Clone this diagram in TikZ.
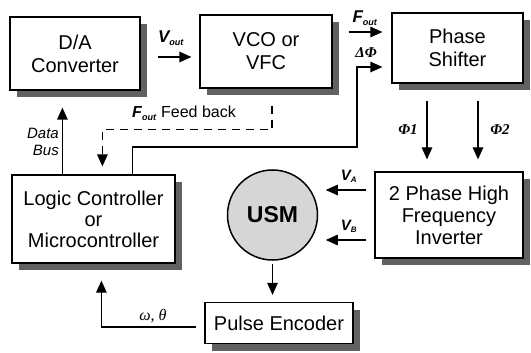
\documentclass[tikz,border=0pt]{standalone}
\usepackage{fontspec}
\setmainfont{Liberation Sans}
\newfontfamily\serifit{Liberation Serif}
\usetikzlibrary{arrows.meta,calc,shadows}
\begin{document}
\begin{tikzpicture}[x=1pt,y=-1pt,
  box/.style={draw, line width=1.2pt, fill=white, align=center, inner sep=0pt,
    font=\fontsize{20}{23}\selectfont,
    drop shadow={shadow xshift=7pt,shadow yshift=-7pt,fill=black!62,opacity=1}},
  arr/.style={-{Triangle[length=12pt,width=10.5pt]}, line width=1.2pt},
  lab/.style={inner sep=0pt, font=\fontsize{16}{18}\selectfont\itshape},
  glab/.style={inner sep=0pt, font=\fontsize{15}{17}\selectfont\serifit\bfseries\itshape}]
\useasboundingbox (0,0) rectangle (531,353);
% boxes
\node[box, minimum width=130pt, minimum height=73pt] (da) at (75,53.5) {D/A\\Converter};
\node[box, minimum width=132pt, minimum height=73pt] (vco) at (266,51.5) {VCO or\\VFC};
\node[box, minimum width=131pt, minimum height=70pt] (ps) at (457.5,48) {Phase\\Shifter};
\node[box, minimum width=163pt, minimum height=88pt, font=\fontsize{20}{21}\selectfont] (logic) at (93.5,219) {Logic Controller\\or\\Microcontroller};
\node[box, minimum width=148pt, minimum height=86pt, font=\fontsize{20}{22}\selectfont] (inv) at (449,215) {2 Phase High\\Frequency\\Inverter};
\node[box, minimum width=148pt, minimum height=41pt] (pe) at (279,323) {Pulse Encoder};
\node[circle, draw, line width=1.5pt, fill=black!16, minimum size=90pt, inner sep=0pt,
  font=\fontsize{23}{25}\selectfont\bfseries] (usm) at (272.5,215) {USM};
% connectors
\draw[arr] ($(da.east)+(17,3.5)$) -- ($(vco.west)+(-8,5.5)$);
\draw[arr] ($(vco.east)+(16,-19.5)$) -- ($(ps.west)+(-9,-16)$);
\draw[arr] ($(logic.north west)+(121,0)$) |- (357,147) |- ($(ps.west)+(-9,19)$);
\draw[arr, dash pattern=on 8pt off 6pt] ($(vco.south)+(6,17)$) |- ($(logic.north west)+(91,-45)$) -- ($(logic.north west)+(91,-8)$);
\draw[arr] ($(logic.north west)+(51,0)$) -- ($(da.south west)+(53,17)$);
\draw[arr] ($(ps.south)+(-30.5,17)$) -- ($(inv.north)+(-22,-12)$);
\draw[arr] ($(ps.south)+(20.5,17)$) -- ($(inv.north)+(29,-12)$);
\draw[arr] ($(inv.west)+(-8,-25)$) -- ($(usm.east)+(7.5,-25)$);
\draw[arr] ($(inv.west)+(-8,25)$) -- ($(usm.east)+(7.5,25)$);
\draw[arr] ($(usm.south)+(0,3)$) -- ($(usm.south |- pe.north)+(0,-7)$);
\draw[arr] ($(pe.west)+(-8,4)$) -| ($(logic.south west)+(90,17)$);
% labels
\node[lab, font=\fontsize{17}{18}\selectfont\bfseries\itshape] (lvout) at (171,38) {V\textsubscript{\fontsize{9}{9}\selectfont out}};
\node[lab, font=\fontsize{17}{18}\selectfont\bfseries\itshape] (lfout) at (365,18) {F\textsubscript{\fontsize{9}{9}\selectfont out}};
\node[glab] (ldphi) at (366,53) {ΔΦ};
\node[lab, font=\fontsize{16}{18}\selectfont] (lfb) at (184,113) {\textit{\bfseries F}\textsubscript{\fontsize{9}{9}\selectfont\bfseries\itshape out} Feed back};
\node[lab, font=\fontsize{15}{17}\selectfont\itshape, align=right, anchor=east] (ldb) at (59,142) {Data\\Bus};
\node[glab] (lphi1) at (408,130) {Φ1};
\node[glab] (lphi2) at (500,130) {Φ2};
\node[lab, font=\fontsize{15}{17}\selectfont\bfseries\itshape] (lva) at (349,176) {V\textsubscript{\fontsize{8}{8}\selectfont A}};
\node[lab, font=\fontsize{15}{17}\selectfont\bfseries\itshape] (lvb) at (349,226) {V\textsubscript{\fontsize{8}{8}\selectfont B}};
\node[inner sep=0pt, font=\fontsize{16}{18}\selectfont\serifit\itshape] (lwt) at (153,316) {ω, θ};
\end{tikzpicture}
\end{document}
